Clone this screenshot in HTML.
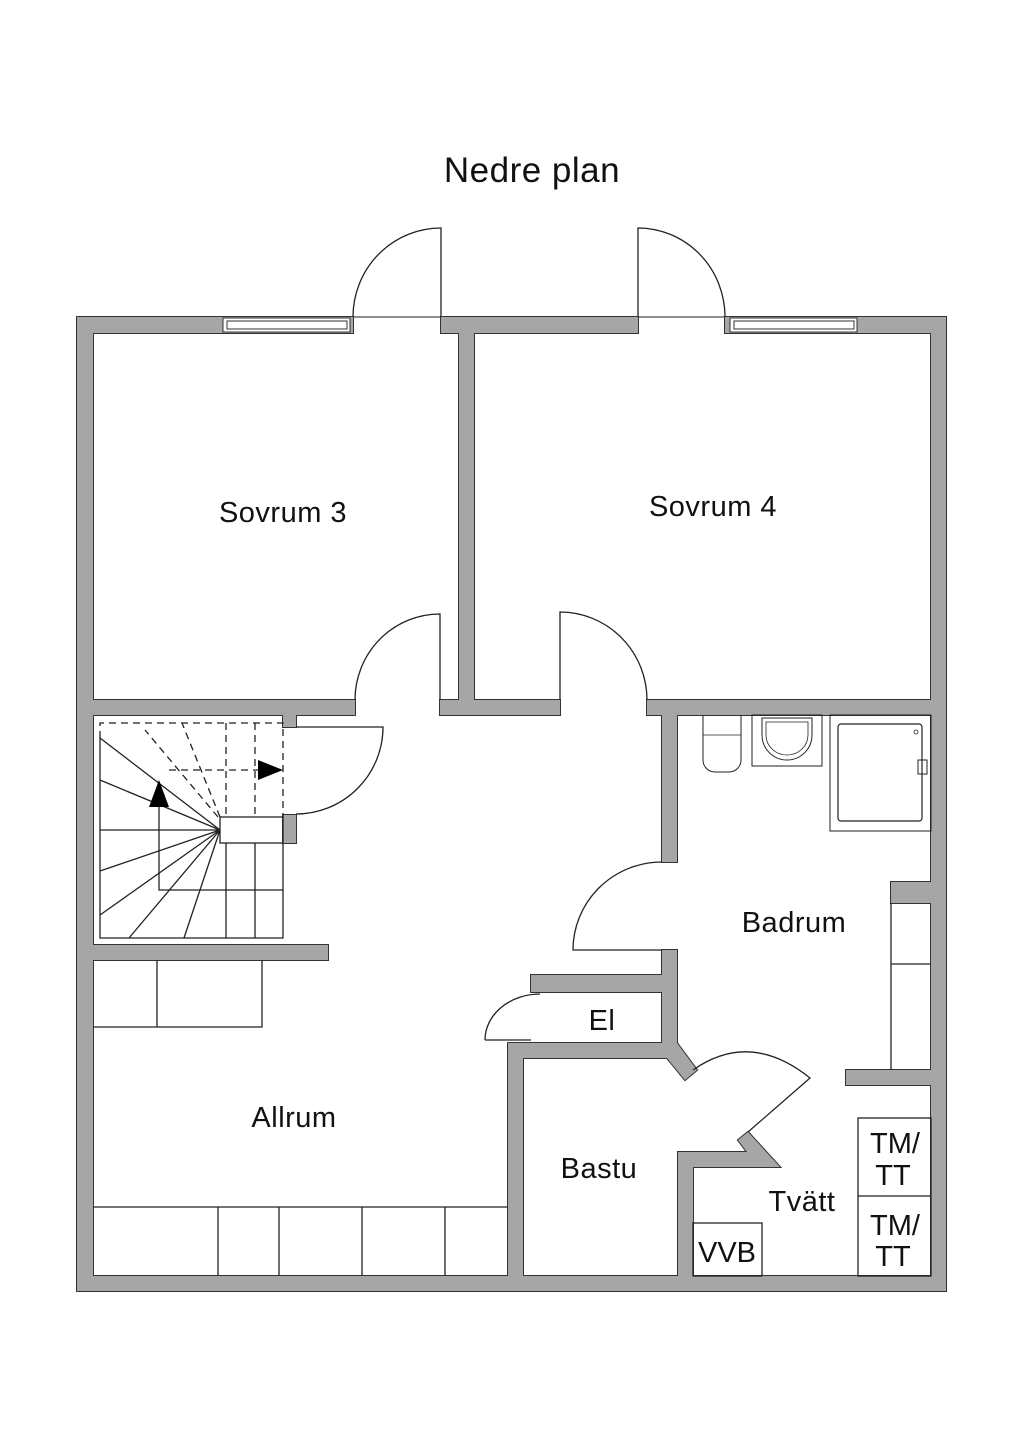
<!DOCTYPE html>
<html><head><meta charset="utf-8"><style>
html,body{margin:0;padding:0;background:#fff}
svg{display:block}
text{font-family:"Liberation Sans",sans-serif;fill:#111}
</style></head><body>
<svg width="1024" height="1448" viewBox="0 0 1024 1448" xmlns="http://www.w3.org/2000/svg">
<defs>
<g id="walls">
<rect x="77" y="317" width="276" height="16"/>
<rect x="441" y="317" width="197" height="16"/>
<rect x="725" y="317" width="221" height="16"/>
<rect x="77" y="317" width="16" height="974"/>
<rect x="931" y="317" width="15" height="974"/>
<rect x="77" y="1276" width="869" height="15"/>
<rect x="459" y="317" width="15" height="398"/>
<rect x="93" y="700" width="262" height="15"/>
<rect x="440" y="700" width="120" height="15"/>
<rect x="647" y="700" width="284" height="15"/>
<rect x="283" y="715" width="13" height="12"/>
<rect x="283" y="815" width="13" height="28"/>
<rect x="93" y="945" width="235" height="15"/>
<rect x="662" y="715" width="15" height="147"/>
<rect x="662" y="950" width="15" height="95"/>
<rect x="531" y="975" width="146" height="17"/>
<rect x="508" y="1043" width="169" height="15"/>
<rect x="508" y="1043" width="15" height="233"/>
<polygon points="662,1043 677,1043 697,1070 685,1080 667,1058"/>
<polygon points="678,1152 747,1152 738,1140 748,1132 780,1167 693,1167 693,1276 678,1276"/>
<rect x="891" y="882" width="40" height="21"/>
<rect x="846" y="1070" width="85" height="15"/>
</g>
</defs>
<text x="532" y="182" font-size="35" text-anchor="middle" letter-spacing="0.5">Nedre plan</text>
<use href="#walls" fill="#a6a6a6" stroke="#333" stroke-width="2"/>
<use href="#walls" fill="#a6a6a6" stroke="none"/>
<g fill="#fff" stroke="#333" stroke-width="1">
<rect x="223" y="318" width="127" height="14"/>
<rect x="227" y="321" width="120" height="8"/>
<rect x="730" y="318" width="127" height="14"/>
<rect x="734" y="321" width="120" height="8"/>
</g>
<g fill="none" stroke="#222" stroke-width="1.3">
<line x1="353" y1="317" x2="441" y2="317" stroke-width="1"/>
<line x1="638" y1="317" x2="725" y2="317" stroke-width="1"/>
<path d="M441,317 L441,228 A88,89 0 0 0 353,317"/>
<path d="M638,317 L638,228 A87,89 0 0 1 725,317"/>
<path d="M440,700 L440,614 A85,86 0 0 0 355,700"/>
<path d="M560,700 L560,612 A87,88 0 0 1 647,700"/>
<path d="M296,727 L383,727 A87,87 0 0 1 296,814"/>
<path d="M662,862 A89,88 0 0 0 573,950 L662,950"/>
<path d="M485,1040 A55,46 0 0 1 540,994 M485,1040 L531,1040"/>
<path d="M693,1070 Q750,1030 810,1078 L748,1132"/>
<path d="M100,738 L100,938 L283,938 L283,843"/>
<rect x="220" y="817" width="63" height="26"/>
<line x1="226" y1="843" x2="226" y2="938"/>
<line x1="255" y1="843" x2="255" y2="938"/>
<path d="M283,890 L159,890 L159,790"/>
<path d="M220,830 L100,738 M220,830 L100,780 M220,830 L100,830 M220,830 L100,871 M220,830 L100,915 M220,830 L129,938 M220,830 L184,938"/>
<g stroke-dasharray="7,5">
<path d="M100,738 L100,723 L283,723 L283,817"/>
<line x1="226" y1="723" x2="226" y2="817"/>
<line x1="255" y1="723" x2="255" y2="817"/>
<line x1="169" y1="770" x2="262" y2="770"/>
<line x1="218" y1="817" x2="145" y2="730"/>
<line x1="220" y1="817" x2="182" y2="723"/>
</g>
<path d="M93,1027 L262,1027 L262,960 M157,960 L157,1027"/>
<path d="M93,1207 L508,1207 M218,1207 V1276 M279,1207 V1276 M362,1207 V1276 M445,1207 V1276"/>
<path d="M891,903 V1070 M891,964 H931"/>
<rect x="858" y="1118" width="73" height="158"/>
<line x1="858" y1="1196" x2="931" y2="1196"/>
<rect x="693" y="1223" width="69" height="53"/>
<path d="M703,715 V760 A12,12 0 0 0 715,772 H729 A12,12 0 0 0 741,760 V715" stroke-width="1"/>
<line x1="703" y1="735" x2="741" y2="735" stroke-width="0.8"/>
<rect x="752" y="715" width="70" height="51" stroke-width="1"/>
<path d="M762,718 H812 V735 A25,25 0 0 1 762,735 Z" stroke-width="1"/>
<path d="M766,722 H808 V735 A21,20 0 0 1 766,735 Z" stroke-width="0.8"/>
<rect x="830" y="715" width="101" height="116" stroke-width="1"/>
<rect x="838" y="724" width="84" height="97" rx="3" stroke-width="1.2"/>
<circle cx="916" cy="732" r="2" stroke-width="0.8"/>
<rect x="918" y="760" width="9" height="14" stroke-width="1"/>
</g>
<polygon points="159,780 149,807 169,807" fill="#000"/>
<polygon points="283,770 258,760 258,780" fill="#000"/>
<g font-size="29" letter-spacing="0.5" text-anchor="middle">
<text x="283" y="522">Sovrum 3</text>
<text x="713" y="516">Sovrum 4</text>
<text x="794" y="932">Badrum</text>
<text x="602" y="1030">El</text>
<text x="294" y="1127">Allrum</text>
<text x="599" y="1178">Bastu</text>
<text x="802" y="1211">Tvätt</text>
</g>
<g font-size="29" text-anchor="middle">
<text x="895" y="1153">TM/</text>
<text x="893" y="1185">TT</text>
<text x="895" y="1235">TM/</text>
<text x="893" y="1266">TT</text>
<text x="727" y="1262">VVB</text>
</g>
</svg>
</body></html>
